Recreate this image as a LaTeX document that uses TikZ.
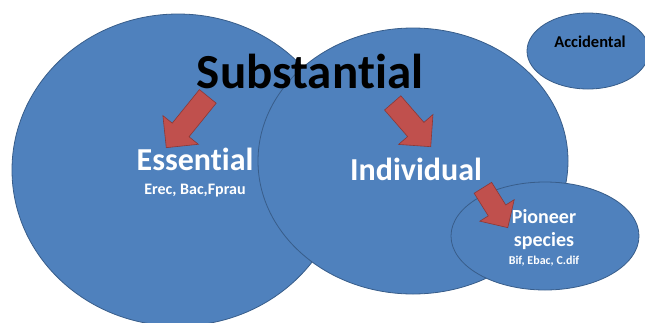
\documentclass[tikz,border=0pt]{standalone}
\usepackage{fontspec}
\setmainfont{Carlito}[Ligatures=NoCommon]
\usepackage{tikz}
\usetikzlibrary{shapes,arrows,positioning}
\definecolor{bubbleblue}{RGB}{79,129,189}
\definecolor{bubbleedge}{RGB}{56,93,138}
\definecolor{arrowred}{RGB}{192,80,77}
\definecolor{arrowedge}{RGB}{140,56,54}

\tikzset{
  bubble/.style={ellipse, draw=bubbleedge, fill=bubbleblue, line width=0.8pt, inner sep=0pt},
  redarrow/.style={single arrow, draw=arrowedge, fill=arrowred, line width=0.6pt,
    inner xsep=0pt, inner ysep=10.5pt, single arrow head extend=12pt, anchor=tip},
  bigword/.style={font=\fontsize{32}{32}\selectfont\bfseries, text=white, inner sep=0pt, anchor=base},
  smallword/.style={font=\fontsize{16}{16}\selectfont\bfseries, text=white, inner sep=0pt, anchor=base}
}

\begin{document}
\begin{tikzpicture}[x=1pt, y=-1pt]
  \useasboundingbox (0,0) rectangle (645,322);

  % bubbles
  \node[bubble, minimum width=332pt, minimum height=312pt] (essentialbub) at (178,170) {};
  \node[bubble, minimum width=310pt, minimum height=266pt] (individualbub) at (413,161) {};
  \node[bubble, minimum width=188pt, minimum height=108pt] (pioneerbub) at (545,236) {};
  \node[bubble, minimum width=122pt, minimum height=76pt] (accidentalbub) at (588,51) {};

  % labels
  \node[font=\fontsize{49}{49}\selectfont\bfseries, inner sep=0pt, anchor=base] (substantial) at (310,88) {Substantial};
  \node[bigword] (essential) at (195,170) {Essential};
  \node[smallword] (essentialsub) at (195,194) {Erec, Bac,Fprau};
  \node[bigword] (individual) at (416,180) {Individual};
  \node[font=\fontsize{20}{23}\selectfont\bfseries, text=white, align=center, inner sep=0pt, anchor=base]
    (pioneer) at (544,246) {Pioneer\\species};
  \node[smallword, font=\fontsize{12}{12}\selectfont\bfseries] (pioneersub) at (544,264) {Bif, Ebac, C.dif};
  \node[font=\fontsize{16.5}{16.5}\selectfont\bfseries, inner sep=0pt, anchor=base] (accidental) at (590,47) {Accidental};

  % block arrows
  \node[redarrow, minimum height=66pt, rotate=231] (toessential) at (166,148) {};
  \node[redarrow, minimum height=58pt, rotate=-49] (toindividual) at (431,147) {};
  \node[redarrow, minimum height=47pt, inner ysep=10pt, single arrow head extend=10pt, rotate=-58] (topioneer) at (508,228) {};
\end{tikzpicture}
\end{document}
